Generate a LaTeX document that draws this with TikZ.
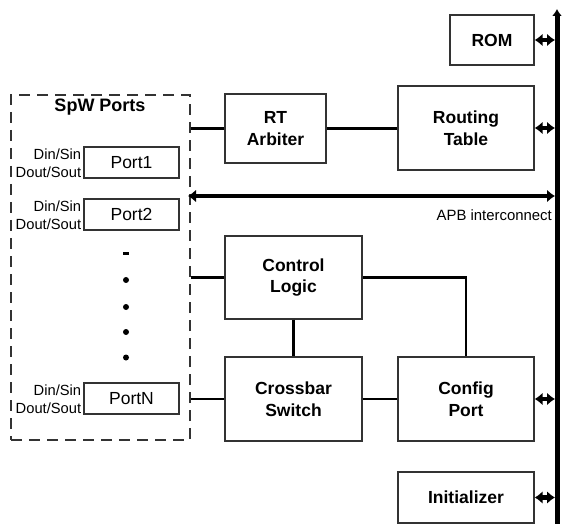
\documentclass[tikz,border=0pt]{standalone}
\usepackage{fontspec}
\setmainfont{Liberation Sans}
\usetikzlibrary{arrows.meta}
\begin{document}
\begin{tikzpicture}[x=1pt,y=-1pt,
  blk/.style={draw=black!80, line width=1.4pt, align=center, inner sep=0pt,
    font=\fontsize{17.5}{21.7}\selectfont\bfseries},
  portbox/.style={draw=black!80, line width=1.4pt, minimum width=95pt, minimum height=31pt,
    inner sep=0pt, font=\fontsize{17.5}{20}\selectfont},
  sidelbl/.style={anchor=east, inner sep=0pt, font=\fontsize{14.7}{16}\selectfont},
  wire/.style={line width=2.5pt},
  dbl/.style={line width=4.5pt, {Latex[length=8pt,width=13pt]}-{Latex[length=8pt,width=13pt]}},
  dot/.style={fill=black, circle, inner sep=0pt, minimum size=6pt}
]
\useasboundingbox (0,0) rectangle (563,524);

% dashed SpW ports container
\node[draw=black!80, line width=1.6pt, dash pattern=on 11pt off 7pt,
  minimum width=179pt, minimum height=345pt, inner sep=0pt] (spw) at (100.5,267.5) {};
\node[font=\fontsize{18}{20}\selectfont\bfseries, inner sep=0pt] (spwlbl) at (100,107) {SpW Ports};

% ports
\node[portbox] (p1) at (131.5,162.5) {Port1};
\node[portbox] (p2) at (131.5,214.5) {Port2};
\node[portbox] (pn) at (131.5,398.5) {PortN};
\foreach \p in {p1,p2,pn}{
  \node[sidelbl] (\p din) at ([xshift=-2pt,yshift=8pt]\p.west) {Din/Sin};
  \node[sidelbl] (\p dout) at ([xshift=-2pt,yshift=-9.5pt]\p.west) {Dout/Sout};
}
% ellipsis
\fill[black] (123,252) rectangle (129,255);
\node[dot] (d1) at (126,280) {};
\node[dot] (d2) at (126,307) {};
\node[dot] (d3) at (126,332) {};
\node[dot] (d4) at (126,357.5) {};

% main blocks
\node[blk, minimum width=84pt, minimum height=50pt] (rom) at (492,40) {ROM};
\node[blk, minimum width=136pt, minimum height=84pt] (rtab) at (466,128) {Routing\\Table};
\node[blk, minimum width=101pt, minimum height=69pt] (arb) at (275.5,128.5) {RT\\Arbiter};
\node[blk, minimum width=137pt, minimum height=83pt] (ctl) at (293.5,277.5) {Control\\Logic};
\node[blk, minimum width=137pt, minimum height=84pt] (xbar) at (293.5,399) {Crossbar\\Switch};
\node[blk, minimum width=136pt, minimum height=84pt] (cfg) at (466,399) {Config\\Port};
\node[blk, minimum width=136pt, minimum height=51pt] (init) at (466,497.5) {Initializer};

% bus
\coordinate (busB) at (557,524);
\coordinate (busT) at (557,9);
\draw[line width=5pt, -{Latex[length=7pt,width=10pt]}] (busB) -- (busT);
\coordinate (busE) at (555,0);

% APB interconnect
\coordinate (apbL) at (188,196);
\coordinate (apbR) at (555,196);
\draw[dbl] (apbL) -- (apbR);
\node[anchor=east, inner sep=0pt, font=\fontsize{14.9}{16}\selectfont] (apblbl) at (552,215) {APB interconnect};

% connectors
\draw[wire] (arb.west -| spw.east) -- (arb.west);
\draw[wire] (arb.east) -- (rtab.west |- arb.east);
\draw[wire] (ctl.west -| spw.east) -- (ctl.west);
\draw[wire] (xbar.west -| spw.east) -- (xbar.west);
\draw[wire] (ctl.south) -- (xbar.north);
\draw[wire] (xbar.east) -- (cfg.west);
\draw[wire] (ctl.east) -| (cfg.north);

% bus taps
\draw[dbl] (rom.east) -- (rom.east -| busE);
\draw[dbl] (rtab.east) -- (rtab.east -| busE);
\draw[dbl] (cfg.east) -- (cfg.east -| busE);
\draw[dbl] (init.east) -- (init.east -| busE);
\end{tikzpicture}
\end{document}
